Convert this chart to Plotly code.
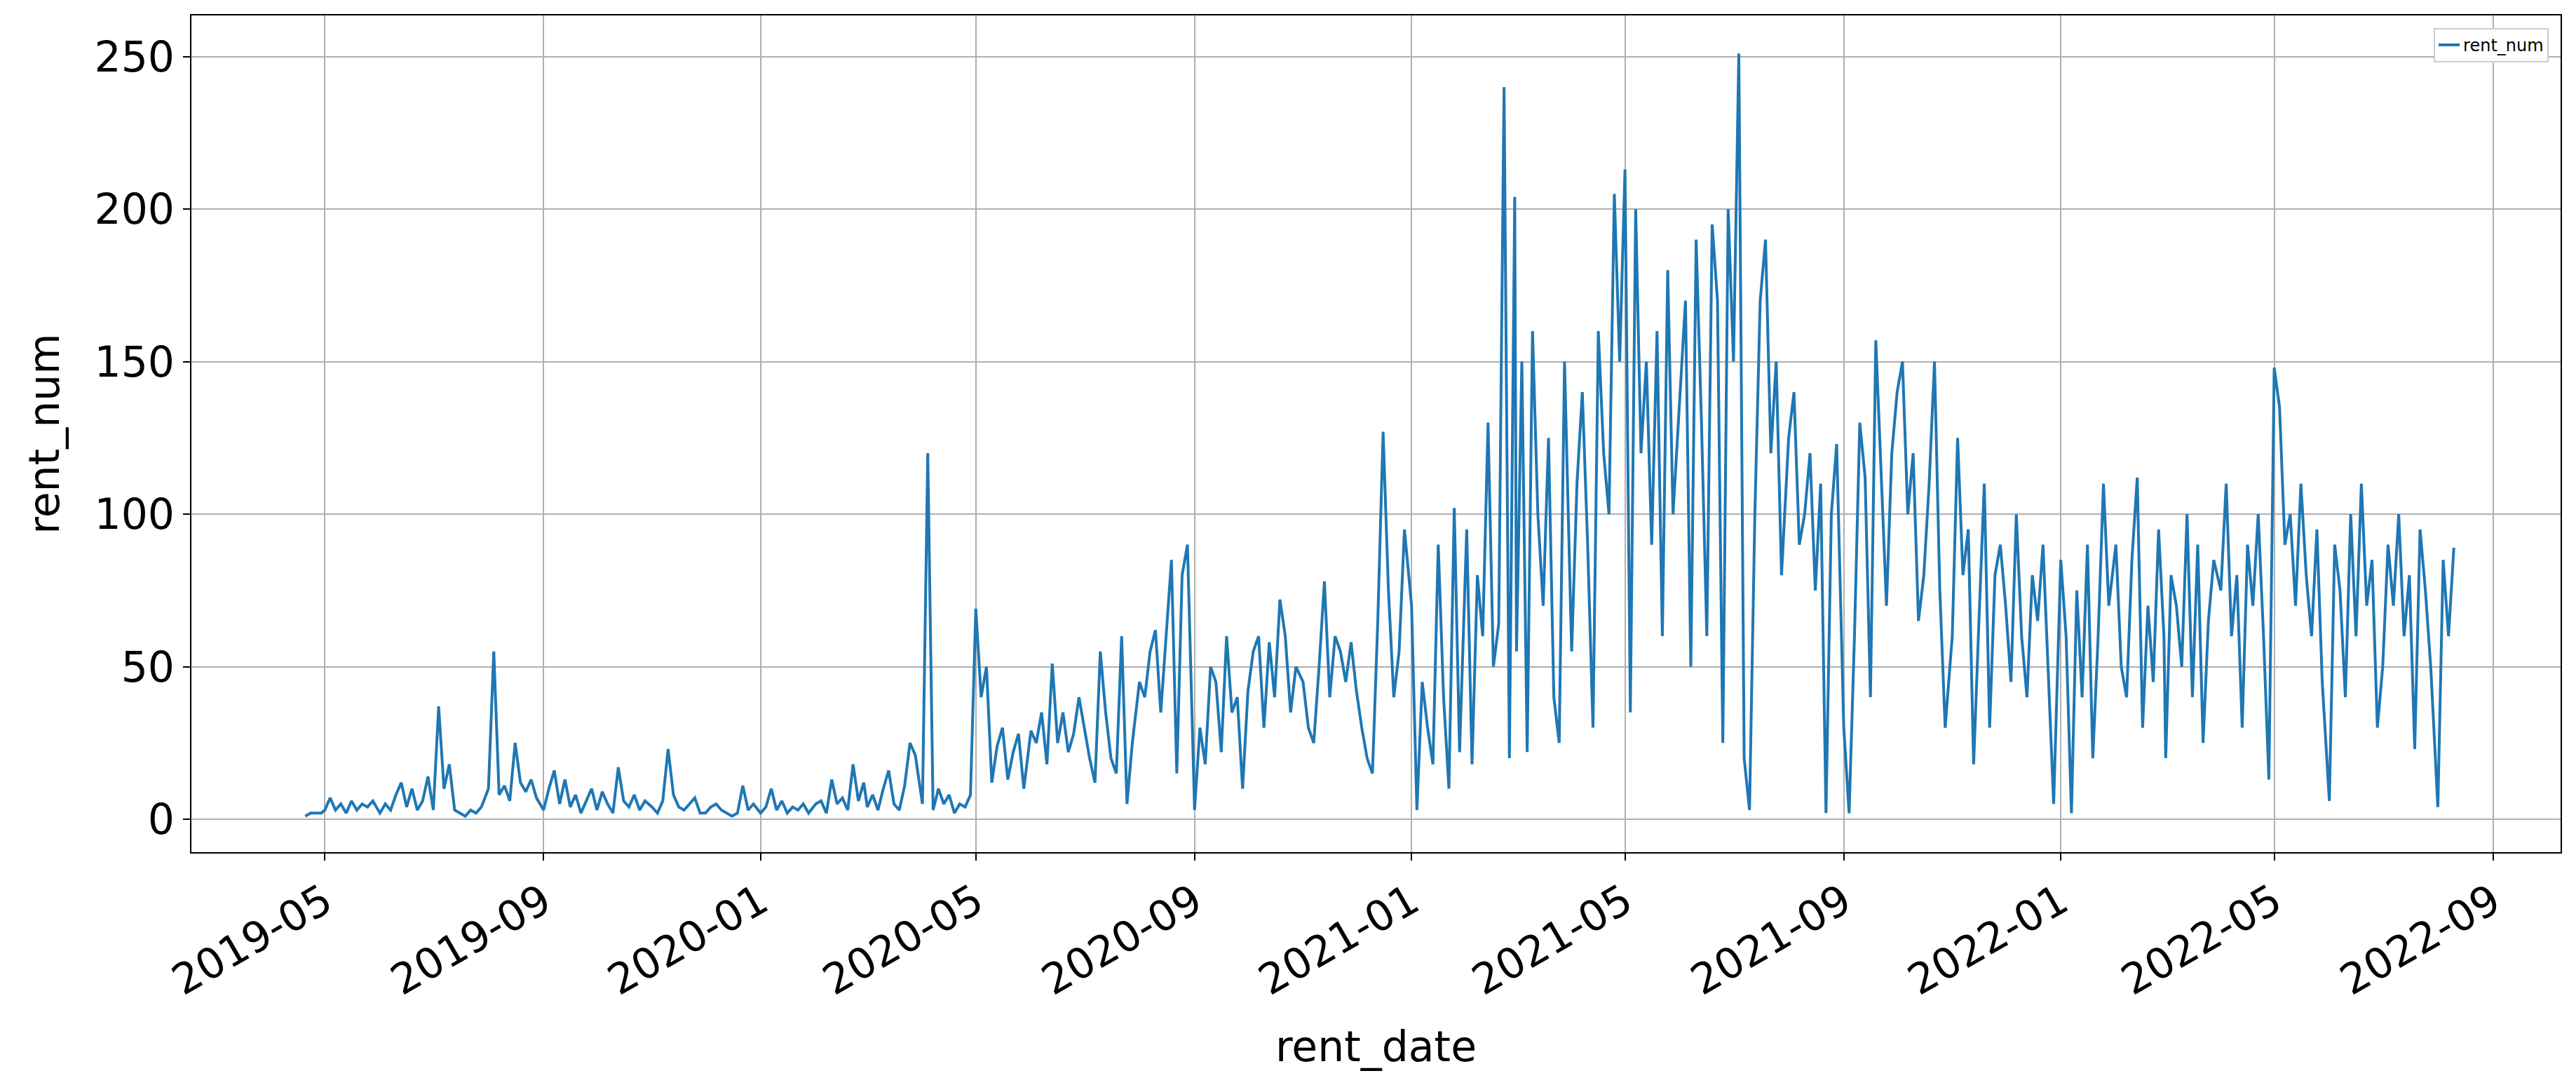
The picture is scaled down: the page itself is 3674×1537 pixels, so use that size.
import pandas as pd
import plotly.graph_objects as go

# rent counts, sampled roughly every 3 days, one list per month
months = pd.date_range("2019-04-01", "2022-08-01", freq="MS")
start_day = {0: 19}  # first month starts late
rent_2019 = [
    [1, 2, 2, 2],
    [3, 7, 3, 5, 2, 6, 3, 5, 4, 6],
    [2, 5, 3, 8, 12, 4, 10, 3, 6, 14],
    [3, 37, 10, 18, 3, 2, 1, 3, 2, 4],
    [10, 55, 8, 11, 6, 25, 12, 9, 13, 7],
    [3, 10, 16, 5, 13, 4, 8, 2, 6, 10],
    [3, 9, 5, 2, 17, 6, 4, 8, 3, 6],
    [4, 2, 6, 23, 8, 4, 3, 5, 7, 2],
    [2, 4, 5, 3, 2, 1, 2, 11, 3, 5],
]
rent_2020 = [
    [2, 4, 10, 3, 6, 2, 4, 3, 5, 2],
    [5, 6, 2, 13, 5, 7, 3, 18, 6, 12],
    [4, 8, 3, 10, 16, 5, 3, 11, 25, 21],
    [5, 120, 3, 10, 5, 8, 2, 5, 4, 8],
    [69, 40, 50, 12, 24, 30, 13, 22, 28, 10],
    [29, 25, 35, 18, 51, 25, 35, 22, 28, 40],
    [30, 20, 12, 55, 35, 20, 15, 60, 5, 25],
    [45, 40, 55, 62, 35, 60, 85, 15, 80, 90],
    [3, 30, 18, 50, 45, 22, 60, 35, 40, 10],
    [42, 55, 60, 30, 58, 40, 72, 60, 35, 50],
    [45, 30, 25, 50, 78, 40, 60, 55, 45, 58],
    [42, 30, 20, 15, 65, 127, 75, 40, 55, 95],
]
rent_2021 = [
    [70, 3, 45, 30, 18, 90, 40, 10, 102, 22],
    [95, 18, 80, 60, 130, 50, 64, 240, 20, 204],
    [55, 150, 22, 160, 100, 70, 125, 40, 25, 150],
    [55, 110, 140, 90, 30, 160, 120, 100, 205, 150],
    [213, 35, 200, 120, 150, 90, 160, 60, 180, 100],
    [140, 170, 50, 190, 130, 60, 195, 170, 25, 200],
    [150, 251, 20, 3, 100, 170, 190, 120, 150, 80],
    [125, 140, 90, 100, 120, 75, 110, 2, 100, 123],
    [30, 2, 60, 130, 112, 40, 157, 115, 70, 120],
    [140, 150, 100, 120, 65, 80, 110, 150, 75, 30],
    [60, 125, 80, 95, 18, 65, 110, 30, 80, 90],
    [70, 45, 100, 60, 40, 80, 65, 90, 50, 5],
]
rent_2022 = [
    [85, 60, 2, 75, 40, 90, 20, 60, 110, 70],
    [90, 50, 40, 85, 112, 30, 70, 45, 95, 60],
    [20, 80, 70, 50, 100, 40, 90, 25, 65, 85],
    [75, 110, 60, 80, 30, 90, 70, 100, 60, 13],
    [148, 135, 90, 100, 70, 110, 80, 60, 95, 45],
    [6, 90, 75, 40, 100, 60, 110, 70, 85, 30],
    [50, 90, 70, 100, 60, 80, 23, 95, 75, 50],
    [4, 85, 60, 89],
]

dates, values = [], []
for i, (m, vals) in enumerate(zip(months, rent_2019 + rent_2020 + rent_2021 + rent_2022)):
    d0 = start_day.get(i, 0)
    for j, v in enumerate(vals):
        dates.append(m + pd.Timedelta(days=d0 + 3 * j))
        values.append(v)

tick_dates = pd.date_range("2019-05-01", "2022-09-01", freq="4MS")

fig = go.Figure(go.Scatter(x=dates, y=values, mode="lines", name="rent_num",
                           line=dict(color="#1f77b4", width=4)))

axis_common = dict(showline=True, linecolor="black", linewidth=2, mirror=True,
                   showgrid=True, gridcolor="#b0b0b0", gridwidth=2,
                   ticks="outside", ticklen=10, tickwidth=2, tickcolor="black",
                   zeroline=False, tickfont=dict(size=60, color="black"),
                   title_font=dict(size=60, color="black"))

fig.update_layout(
    width=3674, height=1537,
    plot_bgcolor="white", paper_bgcolor="white",
    font=dict(family="DejaVu Sans"),
    margin=dict(l=265, r=30, t=14, b=330),
    showlegend=True,
    legend=dict(x=0.995, y=0.985, xanchor="right", yanchor="top",
                bgcolor="white", bordercolor="#cccccc", borderwidth=2,
                font=dict(size=24, color="black")),
    xaxis=dict(axis_common, title=dict(text="rent_date", standoff=40),
               range=["2019-02-15", "2022-10-09"],
               tickvals=tick_dates, ticktext=[d.strftime("%Y-%m") for d in tick_dates],
               tickangle=-30),
    yaxis=dict(axis_common, title=dict(text="rent_num", standoff=30),
               range=[-10.8, 263.5], tickvals=[0, 50, 100, 150, 200, 250]),
)

fig.write_html("out.html")
